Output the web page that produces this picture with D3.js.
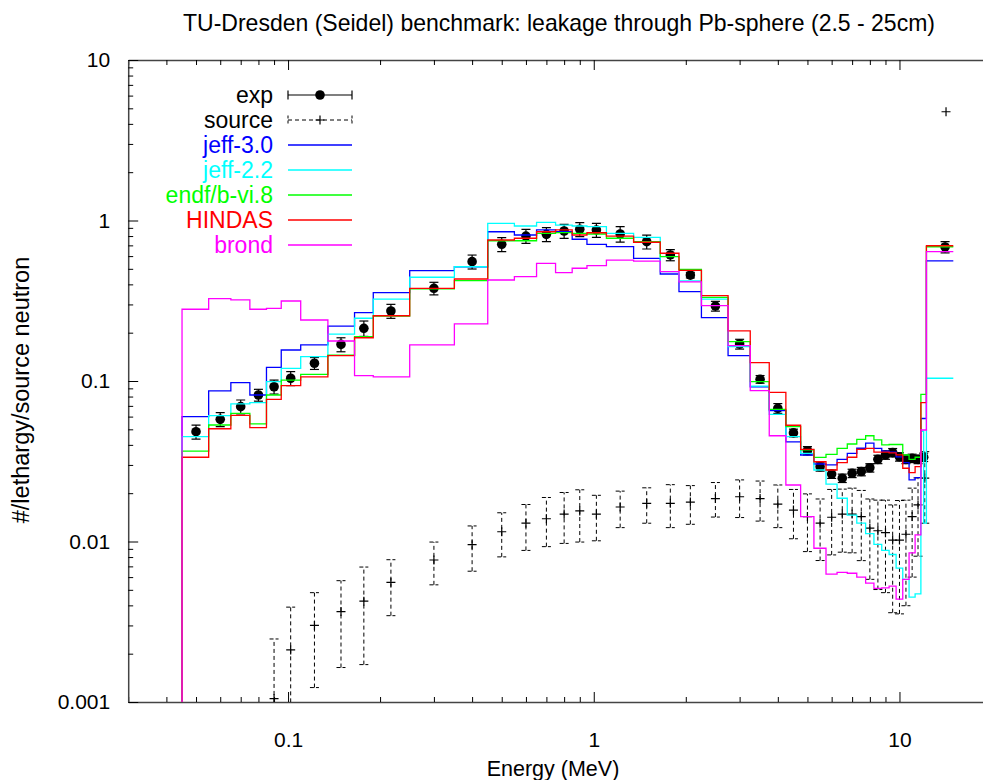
<!DOCTYPE html>
<html><head><meta charset="utf-8">
<script src="https://cdn.jsdelivr.net/npm/d3@7"></script>
<style>body{margin:0;background:#fff} svg text{font-family:"Liberation Sans",Arial,Helvetica,sans-serif}</style>
</head><body><svg id="c" width="983" height="780"></svg>
<script>
// ---------- data ----------
const binEdges = [0.045,0.055,0.065,0.075,0.085,0.095,0.11,0.135,0.165,0.19,0.25,0.35,0.45,0.55,0.65,0.75,0.85,0.95,1.1,1.35,1.65,1.9,2.25,2.75,3.25,3.75,4.25,4.75,5.25,5.75,6.25,6.75,7.25,7.75,8.25,8.75,9.25,9.75,10.25,10.75,11.25,11.75,12.0,12.25,15];
const jeff30 = [0.060,0.0867,0.0976,0.0818,0.1217,0.156,0.168,0.220,0.2665,0.355,0.487,0.515,0.851,0.812,0.873,0.851,0.764,0.711,0.687,0.581,0.464,0.36,0.248,0.144,0.092,0.0653,0.0418,0.0346,0.0304,0.030,0.0325,0.0354,0.0381,0.041,0.038,0.0365,0.036,0.0337,0.031,0.0242,0.025,0.0584,0.0584,0.56];
const jeff22 = [0.045,0.0608,0.072,0.0733,0.099,0.12,0.1417,0.196,0.246,0.324,0.443,0.515,0.96,0.924,0.974,0.937,0.924,0.915,0.832,0.786,0.48,0.42,0.324,0.1636,0.093,0.062,0.045,0.0354,0.0279,0.0228,0.0186,0.0146,0.013,0.0112,0.0096,0.0088,0.0083,0.00682,0.00581,0.0045,0.00472,0.0485,0.013,0.104];
const endfb68 = [0.0366,0.0532,0.0629,0.054,0.0818,0.1014,0.110,0.145,0.189,0.254,0.375,0.422,0.748,0.748,0.832,0.84,0.832,0.824,0.775,0.738,0.595,0.4966,0.332,0.176,0.099,0.0666,0.0519,0.0372,0.0334,0.0349,0.038,0.0405,0.0433,0.0456,0.043,0.040,0.0402,0.0402,0.0346,0.0325,0.0335,0.0825,0.0825,0.686];
const hindas = [0.0335,0.0504,0.0611,0.0512,0.0769,0.0935,0.106,0.144,0.186,0.255,0.378,0.432,0.756,0.775,0.851,0.873,0.812,0.839,0.80,0.732,0.625,0.489,0.34,0.205,0.13,0.085,0.053,0.0375,0.0314,0.0279,0.031,0.0335,0.0375,0.038,0.036,0.036,0.0357,0.0347,0.0286,0.0269,0.0293,0.0733,0.0733,0.696];
const brond = [0.280,0.326,0.320,0.280,0.2835,0.315,0.240,0.1775,0.108,0.106,0.168,0.227,0.426,0.447,0.541,0.473,0.504,0.523,0.567,0.559,0.48,0.414,0.2946,0.166,0.087,0.0456,0.0225,0.01427,0.00908,0.00627,0.00643,0.00634,0.00599,0.0055,0.0051,0.00514,0.00527,0.00438,0.0058,0.0085,0.011,0.0495,0.0495,0.64];

const expE = [0.05,0.06,0.07,0.08,0.09,0.102,0.122,0.149,0.177,0.217,0.3,0.4,0.5,0.6,0.7,0.8,0.9,1.02,1.22,1.49,1.78,2.07,2.5,3,3.5,4,4.5,5,5.5,6,6.5,7,7.5,8,8.5,9,9.5,10,10.5,11,11.5,12,14.1];
const expV = [0.0483,0.0577,0.0692,0.0818,0.0921,0.104,0.129,0.169,0.213,0.273,0.378,0.554,0.711,0.80,0.82,0.86,0.882,0.873,0.824,0.738,0.61,0.457,0.293,0.17,0.1025,0.0676,0.0475,0.0368,0.0292,0.0263,0.0248,0.0266,0.0273,0.0288,0.0325,0.0346,0.0358,0.0337,0.0325,0.033,0.0325,0.0335,0.684];
const expRelErr = [0.10,0.10,0.10,0.085,0.10,0.10,0.085,0.10,0.11,0.10,0.09,0.10,0.10,0.10,0.10,0.10,0.10,0.10,0.11,0.10,0.08,0.04,0.07,0.07,0.055,0.07,0.055,0.06,0.06,0.06,0.06,0.06,0.06,0.06,0.06,0.06,0.06,0.06,0.06,0.06,0.06,0.06,0.08];

const srcE = [0.09,0.102,0.122,0.149,0.177,0.217,0.3,0.4,0.5,0.6,0.7,0.8,0.9,1.02,1.22,1.49,1.78,2.07,2.5,3,3.5,4,4.5,5,5.5,6,6.5,7,7.5,8,8.5,9,9.5,10,10.5,11,11.5,12.1,14.2];
const srcV = [0.00105,0.00211,0.0030,0.00366,0.00425,0.00557,0.00767,0.00955,0.0115,0.013,0.01386,0.01483,0.0155,0.01483,0.0164,0.0173,0.0173,0.0176,0.0185,0.019,0.0185,0.0171,0.0157,0.0143,0.013,0.01416,0.01483,0.01483,0.0143,0.0121,0.01167,0.01135,0.0102,0.0102,0.0111,0.0143,0.0169,0.0248,4.76];
const srcLo = [0.0003,0.0009,0.00123,0.00164,0.00171,0.00345,0.00537,0.00653,0.00802,0.0088,0.00929,0.00973,0.00992,0.0101,0.0122,0.0130,0.0122,0.0128,0.0142,0.0141,0.0134,0.0122,0.0104,0.00865,0.00761,0.00825,0.00858,0.0085,0.0076,0.00581,0.00502,0.0048,0.0036,0.00354,0.00398,0.006,0.0081,0.0130,4.76];
const srcHi = [0.00247,0.0039,0.0048,0.0057,0.00693,0.0077,0.00992,0.0125,0.0151,0.017,0.0188,0.0202,0.0210,0.0194,0.0206,0.0216,0.0226,0.0223,0.0233,0.0242,0.0238,0.0225,0.0211,0.0198,0.0184,0.0211,0.0212,0.0215,0.0208,0.0184,0.0181,0.0181,0.0169,0.018,0.0181,0.0215,0.0249,0.0363,4.76];

const seriesNames = ["jeff-3.0","jeff-2.2","endf/b-vi.8","HINDAS","brond"];
const seriesValues = [jeff30, jeff22, endfb68, hindas, brond];
const seriesColors = ["#0000ff","#00ffff","#00ff00","#ff0000","#ff00ff"];

const xMajor = [0.1, 1, 10];
const xTickLabels = ["0.1","1","10"];
const yMajor = [0.001, 0.01, 0.1, 1, 10];
const yTickLabels = ["0.001","0.01","0.1","1","10"];

const titleText = "TU-Dresden (Seidel) benchmark: leakage through Pb-sphere (2.5 - 25cm)";
const xLabelText = "Energy (MeV)";
const yLabelText = "#/lethargy/source neutron";

// ---------- layout ----------
const L = 128.2, R = 991.5, T = 60, B = 702;
const svg = d3.select("#c");
const x = d3.scaleLog().domain([0.03, 20]).range([L, R]);
const y = d3.scaleLog().domain([0.001, 10]).range([B, T]);

svg.append("defs").append("clipPath").attr("id","clip")
  .append("rect").attr("x",L).attr("y",T).attr("width",R-L).attr("height",B-T);

const near = (v, arr) => arr.findIndex(m => Math.abs(v/m - 1) < 1e-6);
const decadeTicks = (lo, hi) => {
  const t = [];
  for (let e = Math.floor(Math.log10(lo)); e <= Math.ceil(Math.log10(hi)); e++)
    for (let k = 1; k < 10; k++) { const v = +(k*Math.pow(10,e)).toPrecision(6); if (v >= lo*0.9999 && v <= hi*1.0001) t.push(v); }
  return t;
};
const xTicks = decadeTicks(0.03, 20);
const yTicks = decadeTicks(0.001, 10);
const font = '"Liberation Sans",Arial,Helvetica,sans-serif';

function finish(g){
  g.attr("font-family", null).attr("font-size", null);
  g.select(".domain").attr("stroke","#444").attr("stroke-width",1.5);
  g.selectAll(".tick line").attr("stroke","#000").attr("stroke-width",1);
  g.selectAll(".tick text").attr("fill","#000").attr("font-size",21).attr("font-family",font);
}

// bottom
const gx = svg.append("g").attr("transform",`translate(0,${B})`)
  .call(d3.axisBottom(x).tickValues(xTicks).tickSizeInner(-5).tickSizeOuter(0).tickPadding(30)
    .tickFormat(d => { const i = near(d, xMajor); return i >= 0 ? xTickLabels[i] : ""; }));
gx.selectAll(".tick line").attr("y2", d => near(d, xMajor) >= 0 ? -10 : -5);
finish(gx);
// top
const gt = svg.append("g").attr("transform",`translate(0,${T})`)
  .call(d3.axisTop(x).tickValues(xTicks).tickSizeInner(-5).tickSizeOuter(0).tickFormat(""));
gt.selectAll(".tick line").attr("y2", d => near(d, xMajor) >= 0 ? 10 : 5);
finish(gt);
// left
const gy = svg.append("g").attr("transform",`translate(${L},0)`)
  .call(d3.axisLeft(y).tickValues(yTicks).tickSizeInner(-5).tickSizeOuter(0).tickPadding(18)
    .tickFormat(d => { const i = near(d, yMajor); return i >= 0 ? yTickLabels[i] : ""; }));
gy.selectAll(".tick line").attr("x2", d => near(d, yMajor) >= 0 ? 10 : 5);
finish(gy);
// right (outside visible image)
const gr = svg.append("g").attr("transform",`translate(${R},0)`)
  .call(d3.axisRight(y).tickValues(yTicks).tickSizeInner(-5).tickSizeOuter(0).tickFormat(""));
finish(gr);

// ---------- marks ----------
const plot = svg.append("g").attr("clip-path","url(#clip)");

// exp points
const expData = expE.map((e,i) => ({e, v: expV[i], lo: expV[i]*(1-expRelErr[i]), hi: expV[i]*(1+expRelErr[i])}));
const ge = plot.append("g");
const cap = 4.5;
expData.forEach(d => {
  const cx = x(d.e);
  ge.append("line").attr("x1",cx).attr("x2",cx).attr("y1",y(d.lo)).attr("y2",y(d.hi)).attr("stroke","#000").attr("stroke-width",1.2);
  ge.append("line").attr("x1",cx-cap).attr("x2",cx+cap).attr("y1",y(d.lo)).attr("y2",y(d.lo)).attr("stroke","#000").attr("stroke-width",1.2);
  ge.append("line").attr("x1",cx-cap).attr("x2",cx+cap).attr("y1",y(d.hi)).attr("y2",y(d.hi)).attr("stroke","#000").attr("stroke-width",1.2);
  ge.append("circle").attr("cx",cx).attr("cy",y(d.v)).attr("r",4.8).attr("fill","#000");
});

// source points
const srcData = srcE.map((e,i) => ({e, v: srcV[i], lo: srcLo[i], hi: srcHi[i]}));
const gs = plot.append("g");
srcData.forEach(d => {
  const cx = x(d.e), cy = y(d.v);
  if (d.hi > d.lo) {
    gs.append("line").attr("x1",cx).attr("x2",cx).attr("y1",y(d.lo)).attr("y2",y(d.hi)).attr("stroke","#000").attr("stroke-width",1).attr("stroke-dasharray","4,3");
    [d.lo, d.hi].forEach(v => gs.append("line").attr("x1",cx-cap).attr("x2",cx+cap).attr("y1",y(v)).attr("y2",y(v)).attr("stroke","#000").attr("stroke-width",1).attr("stroke-dasharray","4,2"));
  }
  gs.append("path").attr("d",`M${cx-4.5},${cy}H${cx+4.5}M${cx},${cy-4.5}V${cy+4.5}`).attr("stroke","#000").attr("stroke-width",1.2).attr("fill","none");
});

// histograms
const stepLine = d3.line().x(d => x(d[0])).y(d => y(d[1])).curve(d3.curveStepAfter);
function stepPoints(vals){
  const p = [[binEdges[0], 1e-5]];
  vals.forEach((v,i) => p.push([binEdges[i], v]));
  p.push([binEdges[binEdges.length-1], vals[vals.length-1]]);
  return p;
}
seriesValues.forEach((vals, k) => {
  plot.append("path").attr("d", stepLine(stepPoints(vals)))
    .attr("fill","none").attr("stroke",seriesColors[k]).attr("stroke-width",1.3);
});

// ---------- legend ----------
const lg = svg.append("g");
const lx0 = 288, lx1 = 352, ltx = 273, ly0 = 95, ldy = 25;
const legendNames = ["exp","source"].concat(seriesNames);
const legendColors = ["#000","#000"].concat(seriesColors);
legendNames.forEach((n,i) => {
  const yy = ly0 + i*ldy;
  lg.append("text").attr("x",ltx).attr("y",yy+8).attr("text-anchor","end").attr("font-size",23).attr("fill",legendColors[i]).text(n);
  if (i === 0) {
    lg.append("line").attr("x1",lx0).attr("x2",lx1).attr("y1",yy).attr("y2",yy).attr("stroke","#000").attr("stroke-width",1.2);
    [lx0,lx1].forEach(xx => lg.append("line").attr("x1",xx).attr("x2",xx).attr("y1",yy-4.5).attr("y2",yy+4.5).attr("stroke","#000").attr("stroke-width",1.2));
    lg.append("circle").attr("cx",(lx0+lx1)/2).attr("cy",yy).attr("r",4.8).attr("fill","#000");
  } else if (i === 1) {
    lg.append("line").attr("x1",lx0).attr("x2",lx1).attr("y1",yy).attr("y2",yy).attr("stroke","#000").attr("stroke-width",1).attr("stroke-dasharray","4,3");
    [lx0,lx1].forEach(xx => lg.append("line").attr("x1",xx).attr("x2",xx).attr("y1",yy-4.5).attr("y2",yy+4.5).attr("stroke","#000").attr("stroke-width",1).attr("stroke-dasharray","3,2"));
    const cx = (lx0+lx1)/2;
    lg.append("path").attr("d",`M${cx-4.5},${yy}H${cx+4.5}M${cx},${yy-4.5}V${yy+4.5}`).attr("stroke","#000").attr("stroke-width",1.2);
  } else {
    lg.append("line").attr("x1",lx0).attr("x2",lx1).attr("y1",yy).attr("y2",yy).attr("stroke",legendColors[i]).attr("stroke-width",1.3);
  }
});

// ---------- titles ----------
svg.append("text").attr("x",559).attr("y",31).attr("text-anchor","middle").attr("font-size",24)
  .attr("textLength",752).attr("lengthAdjust","spacingAndGlyphs").attr("fill","#000").text(titleText);
svg.append("text").attr("x",553).attr("y",776).attr("text-anchor","middle").attr("font-size",21.5).attr("fill","#000").text(xLabelText);
svg.append("text").attr("transform","translate(29,390) rotate(-90)").attr("text-anchor","middle").attr("font-size",23.5).attr("fill","#000").text(yLabelText);
</script>
</body></html>
